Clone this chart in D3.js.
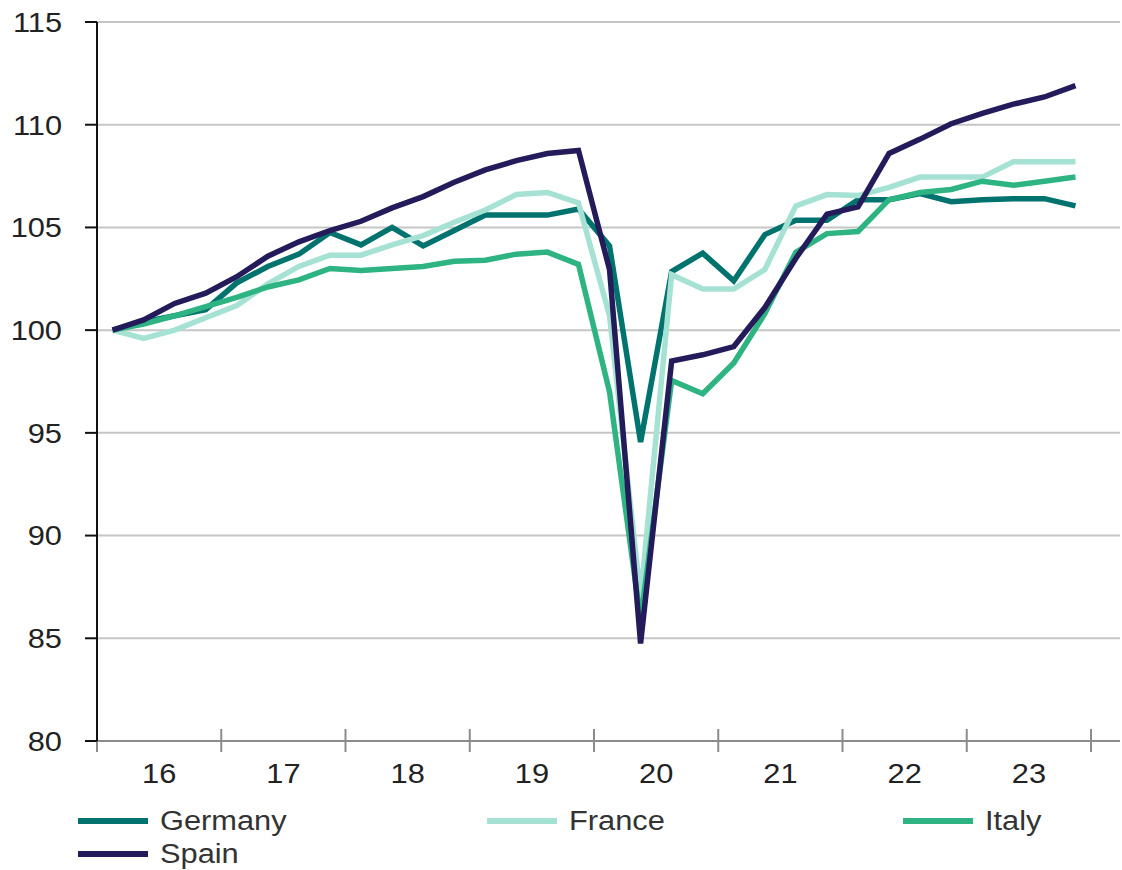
<!DOCTYPE html>
<html lang="en">
<head>
<meta charset="utf-8">
<script src="https://cdn.jsdelivr.net/npm/d3@7"></script>
<style>
  body { margin: 0; background: #fff; }
  svg text { font-family: "Liberation Sans", Arial, sans-serif; fill: #222; font-size: 28px; }
</style>
</head>
<body>
<div id="chart"></div>
<script>
// quarterly index, 2016 Q1 = 100
var years = ["16", "17", "18", "19", "20", "21", "22", "23"];
var yTicks = [80, 85, 90, 95, 100, 105, 110, 115];

var germany = [100.0, 100.4, 100.7, 101.0, 102.3, 103.1, 103.7, 104.75, 104.15, 105.0,
  104.1, 104.85, 105.6, 105.6, 105.6, 105.9, 104.1, 94.55, 102.85, 103.75,
  102.4, 104.65, 105.35, 105.35, 106.35, 106.35, 106.65, 106.25, 106.35, 106.4,
  106.4, 106.05];
var france = [100.0, 99.6, 100.0, 100.6, 101.2, 102.25, 103.1, 103.65, 103.65, 104.15,
  104.6, 105.25, 105.85, 106.6, 106.7, 106.2, 100.7, 87.0, 102.7, 102.0,
  102.0, 102.95, 106.05, 106.6, 106.55, 106.95, 107.45, 107.45, 107.45, 108.2,
  108.2, 108.2];
var italy = [100.0, 100.3, 100.7, 101.15, 101.6, 102.1, 102.45, 103.0, 102.9, 103.0,
  103.1, 103.35, 103.4, 103.7, 103.8, 103.2, 97.0, 85.9, 97.55, 96.9,
  98.4, 100.8, 103.8, 104.7, 104.8, 106.35, 106.7, 106.85, 107.25, 107.05,
  107.25, 107.45];
var spain = [100.0, 100.5, 101.3, 101.8, 102.6, 103.6, 104.3, 104.85, 105.3, 105.95,
  106.5, 107.2, 107.8, 108.25, 108.6, 108.75, 102.95, 84.75, 98.5, 98.8,
  99.2, 101.1, 103.5, 105.65, 106.0, 108.6, 109.3, 110.05, 110.55, 111.0,
  111.35, 111.9];

var seriesNames = ["Germany", "France", "Italy", "Spain"];
var seriesData = [germany, france, italy, spain];
var colors = ["#00736e", "#a6e2d3", "#2db482", "#231b5a"];

var width = 1122, height = 870;
var plotLeft = 97, plotRight = 1091, plotTop = 22, plotBottom = 741;
var stretch = 1.1; // reference type is a bit wider than Liberation Sans

var svg = d3.select("#chart").append("svg")
  .attr("width", width)
  .attr("height", height);

var x = d3.scaleLinear().domain([0, years.length * 4]).range([plotLeft, plotRight]);
var y = d3.scaleLinear().domain([80, 115]).range([plotBottom, plotTop]);

function place(tx, ty) {
  return "translate(" + tx + "," + ty + ") scale(" + stretch + ",1)";
}

// gridlines
svg.append("g")
  .selectAll("line")
  .data(yTicks.filter(function(d) { return d > 80; }))
  .enter().append("line")
  .attr("x1", plotLeft).attr("x2", 1120)
  .attr("y1", function(d) { return y(d); })
  .attr("y2", function(d) { return y(d); })
  .attr("stroke", "#c6c6c6")
  .attr("stroke-width", 2);

// x axis
var xAxis = svg.append("g").attr("transform", "translate(0," + plotBottom + ")");
xAxis.append("line")
  .attr("x1", plotLeft).attr("x2", 1120)
  .attr("stroke", "#8c8c8c").attr("stroke-width", 2);
xAxis.selectAll(".tk")
  .data(d3.range(years.length + 1))
  .enter().append("line")
  .attr("x1", function(d) { return x(d * 4); })
  .attr("x2", function(d) { return x(d * 4); })
  .attr("y1", -12).attr("y2", 11)
  .attr("stroke", "#8c8c8c").attr("stroke-width", 2);
xAxis.selectAll("text")
  .data(years)
  .enter().append("text")
  .attr("transform", function(d, i) { return place(x(i * 4 + 2), 42); })
  .attr("text-anchor", "middle")
  .text(function(d) { return d; });

// y axis
var yAxis = svg.append("g");
yAxis.append("line")
  .attr("x1", plotLeft).attr("x2", plotLeft)
  .attr("y1", plotTop).attr("y2", plotBottom)
  .attr("stroke", "#111").attr("stroke-width", 2);
yAxis.selectAll(".tk")
  .data(yTicks)
  .enter().append("line")
  .attr("x1", plotLeft - 12).attr("x2", plotLeft)
  .attr("y1", function(d) { return y(d); })
  .attr("y2", function(d) { return y(d); })
  .attr("stroke", "#111").attr("stroke-width", 2);
yAxis.selectAll("text")
  .data(yTicks)
  .enter().append("text")
  .attr("transform", function(d) { return place(62, y(d)); })
  .attr("dy", "0.35em")
  .attr("text-anchor", "end")
  .text(function(d) { return d; });

// lines
var line = d3.line()
  .x(function(d, i) { return x(i + 0.5); })
  .y(function(d) { return y(d); });

svg.append("g")
  .selectAll("path")
  .data(seriesData)
  .enter().append("path")
  .attr("d", line)
  .attr("fill", "none")
  .attr("stroke", function(d, i) { return colors[i]; })
  .attr("stroke-width", 5.5)
  .attr("stroke-linejoin", "miter");

// legend
var legX = [78, 487, 903];
var legend = svg.append("g")
  .selectAll("g")
  .data(seriesNames)
  .enter().append("g")
  .attr("transform", function(d, i) {
    return "translate(" + legX[i % 3] + "," + (821 + Math.floor(i / 3) * 33) + ")";
  });
legend.append("line")
  .attr("x1", 0).attr("x2", 70)
  .attr("stroke", function(d, i) { return colors[i]; })
  .attr("stroke-width", 6);
legend.append("text")
  .attr("transform", place(82, 0))
  .attr("dy", "0.33em")
  .style("fill", "#333")
  .text(function(d) { return d; });
</script>
</body>
</html>
